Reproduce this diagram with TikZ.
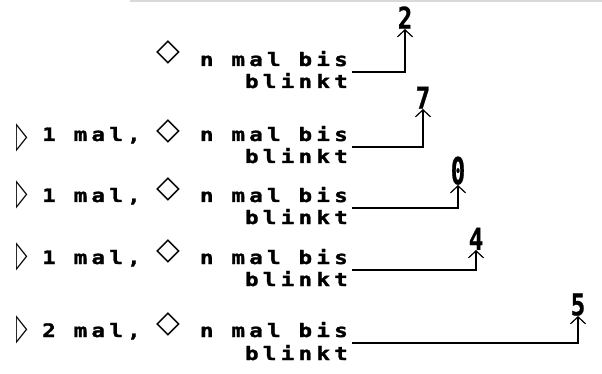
\documentclass[tikz,border=0pt]{standalone}
\usepackage{fontspec}
\usetikzlibrary{arrows.meta}
\newfontfamily\pix[LetterSpace=23,FakeStretch=1.22,FakeBold=1.6]{DejaVu Sans Mono Bold}
\newfontfamily\digfont[FakeBold=1]{DejaVu Sans Mono Bold}
\newfontfamily\symfont{DejaVu Sans}
\begin{document}
\begin{tikzpicture}[x=1pt,y=-1pt,
  lbl/.style={inner sep=0pt, font=\pix\fontsize{18.5}{18.5}\selectfont},
  dig/.style={inner sep=0pt, font=\digfont\fontsize{24}{24}\selectfont},
  tri/.style={inner sep=0pt, font=\symfont\fontsize{37}{37}\selectfont, xscale=0.4},
  dia/.style={inner sep=0pt, font=\symfont\fontsize{31}{31}\selectfont},
  conn/.style={line width=1.3pt, -{Straight Barb[length=7pt,width=15pt,line width=1.2pt]}}
]
\useasboundingbox (0,0) rectangle (602,374);
\draw[black!15, line width=2pt] (130,1) -- (602,1);
% row 1
\node[dia] (d1) at (168,52) {◇};
\node[lbl, anchor=base east] (a1) at (348,66) {n mal bis};
\node[lbl, anchor=base east] (b1) at (348,88) {blinkt};
\node[dig, anchor=south, yscale=1.25] (n1) at (405,29) {2};
\coordinate (s1) at (352,72);
\draw[conn] (s1) -| (n1.south);
% row 2
\node[tri] (t2) at (22,138) {▷};
\node[lbl, anchor=base west] (m2) at (42,141) {1 mal,};
\node[dia] (d2) at (168,131) {◇};
\node[lbl, anchor=base east] (a2) at (348,141) {n mal bis};
\node[lbl, anchor=base east] (b2) at (348,163) {blinkt};
\node[dig, anchor=south, yscale=1.25] (n2) at (423,109) {7};
\coordinate (s2) at (352,147);
\draw[conn] (s2) -| (n2.south);
% row 3
\node[tri] (t3) at (22,195) {▷};
\node[lbl, anchor=base west] (m3) at (42,202) {1 mal,};
\node[dia] (d3) at (168,189) {◇};
\node[lbl, anchor=base east] (a3) at (348,202) {n mal bis};
\node[lbl, anchor=base east] (b3) at (348,224) {blinkt};
\node[dig, anchor=south, yscale=1.55] (n3) at (458,185) {0};
\coordinate (s3) at (352,208);
\draw[conn] (s3) -| (n3.south);
% row 4
\node[tri] (t4) at (22,257) {▷};
\node[lbl, anchor=base west] (m4) at (42,264) {1 mal,};
\node[dia] (d4) at (168,251) {◇};
\node[lbl, anchor=base east] (a4) at (348,264) {n mal bis};
\node[lbl, anchor=base east] (b4) at (348,286) {blinkt};
\node[dig, anchor=south, yscale=1.25] (n4) at (476,250) {4};
\coordinate (s4) at (352,270);
\draw[conn] (s4) -| (n4.south);
% row 5
\node[tri] (t5) at (22,330) {▷};
\node[lbl, anchor=base west] (m5) at (42,337) {2 mal,};
\node[dia] (d5) at (168,324) {◇};
\node[lbl, anchor=base east] (a5) at (348,337) {n mal bis};
\node[lbl, anchor=base east] (b5) at (348,360) {blinkt};
\node[dig, anchor=south, yscale=1.25] (n5) at (578,316) {5};
\coordinate (s5) at (352,343);
\draw[conn] (s5) -| (n5.south);
\end{tikzpicture}
\end{document}
